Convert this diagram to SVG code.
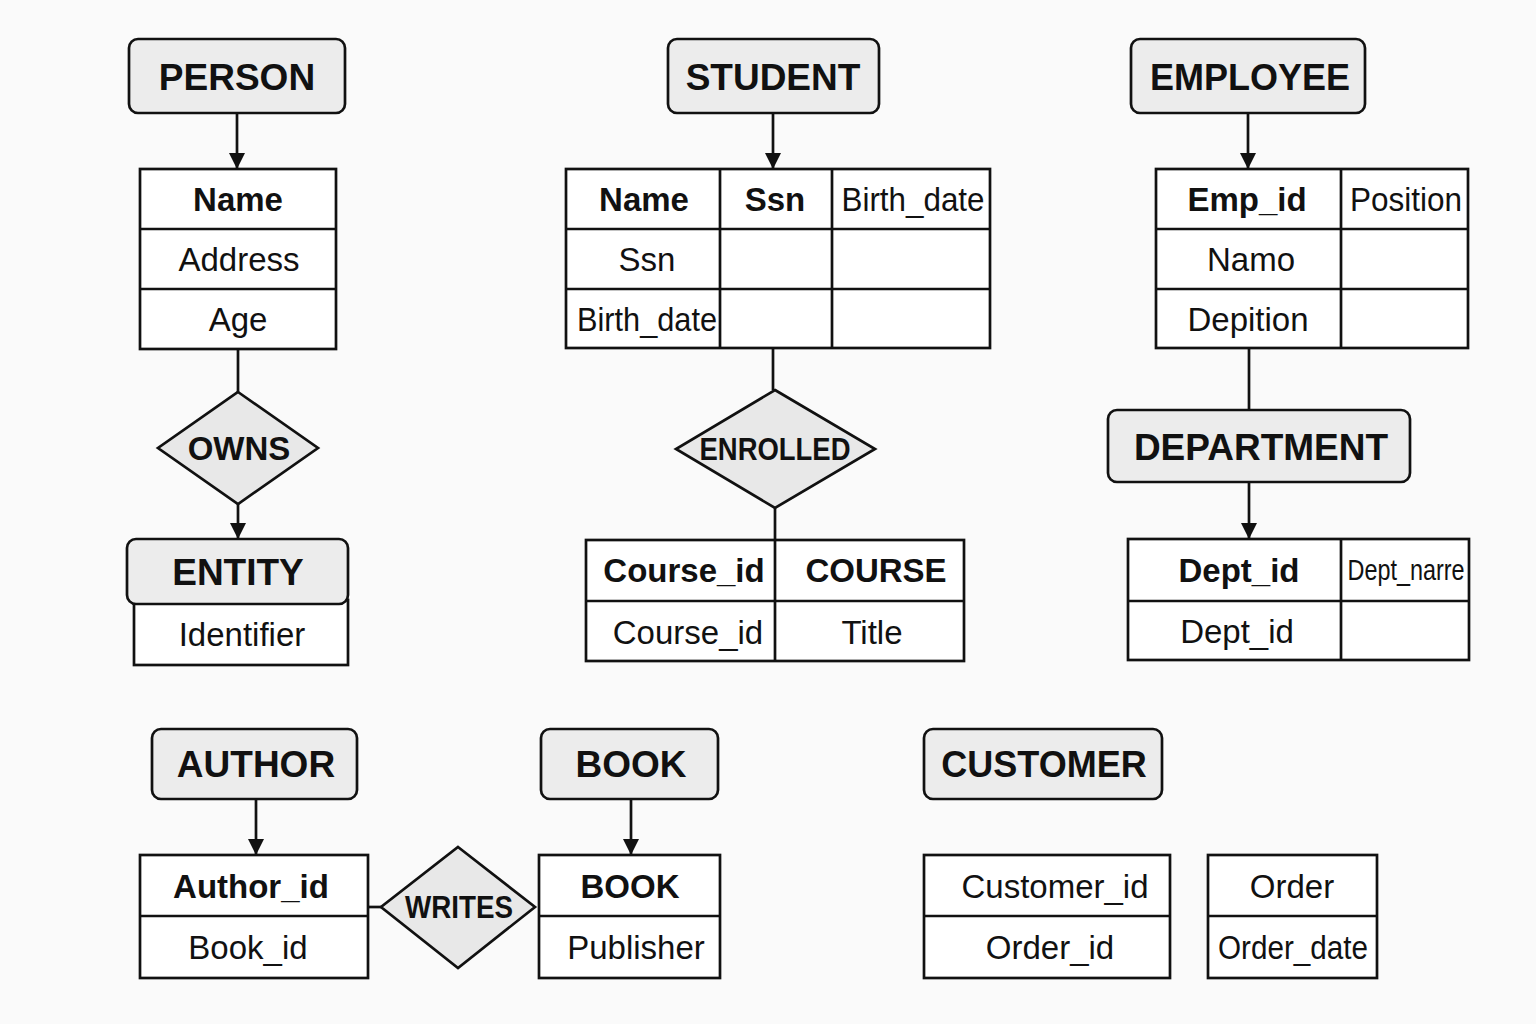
<svg xmlns="http://www.w3.org/2000/svg" width="1536" height="1024" viewBox="0 0 1536 1024">
<defs>
<marker id="arr" viewBox="0 0 10 10" refX="10" refY="5" markerWidth="16" markerHeight="16" markerUnits="userSpaceOnUse" orient="auto"><path d="M0,0 L10,5 L0,10 z" fill="#111"/></marker>
<style>
.hdr{fill:#ececec;stroke:#111;stroke-width:2.7}
.tbl{fill:#fff;stroke:#111;stroke-width:2.7}
.ln{stroke:#111;stroke-width:2.7;fill:none}
.dia{fill:#e8e8e8;stroke:#111;stroke-width:2.7}
.ht{font-family:"Liberation Sans",Arial,sans-serif;font-weight:bold;font-size:37px;fill:#111;text-anchor:middle}
.tb{font-family:"Liberation Sans",Arial,sans-serif;font-weight:bold;font-size:33px;fill:#111;text-anchor:middle}
.tn{font-family:"Liberation Sans",Arial,sans-serif;font-size:33px;fill:#111;text-anchor:middle}
.dt{font-family:"Liberation Sans",Arial,sans-serif;font-weight:bold;font-size:31px;fill:#111;text-anchor:middle}
</style>
</defs>
<rect width="1536" height="1024" fill="#fafafa"/>

<g id="connectors">
<line class="ln" x1="237" y1="113" x2="237" y2="169" marker-end="url(#arr)"/>
<line class="ln" x1="238" y1="349" x2="238" y2="392"/>
<line class="ln" x1="238" y1="504" x2="238" y2="539" marker-end="url(#arr)"/>
<line class="ln" x1="773" y1="113" x2="773" y2="169" marker-end="url(#arr)"/>
<line class="ln" x1="773" y1="348" x2="773" y2="390"/>
<line class="ln" x1="775" y1="508" x2="775" y2="540"/>
<line class="ln" x1="1248" y1="113" x2="1248" y2="169" marker-end="url(#arr)"/>
<line class="ln" x1="1249" y1="348" x2="1249" y2="410"/>
<line class="ln" x1="1249" y1="482" x2="1249" y2="539" marker-end="url(#arr)"/>
<line class="ln" x1="256" y1="799" x2="256" y2="855" marker-end="url(#arr)"/>
<line class="ln" x1="631" y1="799" x2="631" y2="855" marker-end="url(#arr)"/>
<line class="ln" x1="368" y1="907" x2="381" y2="907"/>
</g>

<g id="person">
<rect class="hdr" x="129" y="39" width="216" height="74" rx="9"/>
<text class="ht" x="237" y="90">PERSON</text>
</g>
<g id="person-attrs">
<rect class="tbl" x="140" y="169" width="196" height="180"/>
<line class="ln" x1="140" y1="229" x2="336" y2="229"/>
<line class="ln" x1="140" y1="289" x2="336" y2="289"/>
<text class="tb" x="238" y="211">Name</text>
<text class="tn" x="239" y="271">Address</text>
<text class="tn" x="238" y="331">Age</text>
</g>
<g id="owns">
<polygon class="dia" points="238,392 318,448 238,504 158,448"/>
<text class="tb" x="239" y="460">OWNS</text>
</g>
<g id="entity">
<rect class="tbl" x="134" y="600" width="214" height="65"/>
<rect class="hdr" x="127" y="539" width="221" height="65" rx="9"/>
<text class="ht" x="238" y="585">ENTITY</text>
<text class="tn" x="242" y="646">Identifier</text>
</g>

<g id="student">
<rect class="hdr" x="668" y="39" width="211" height="74" rx="9"/>
<text class="ht" x="773" y="90">STUDENT</text>
</g>
<g id="student-attrs">
<rect class="tbl" x="566" y="169" width="424" height="179"/>
<line class="ln" x1="566" y1="229" x2="990" y2="229"/>
<line class="ln" x1="566" y1="289" x2="990" y2="289"/>
<line class="ln" x1="720" y1="169" x2="720" y2="348"/>
<line class="ln" x1="832" y1="169" x2="832" y2="348"/>
<text class="tb" x="644" y="211">Name</text>
<text class="tb" x="775" y="211">Ssn</text>
<text class="tn" x="913" y="211" textLength="143" lengthAdjust="spacingAndGlyphs">Birth_date</text>
<text class="tn" x="647" y="271">Ssn</text>
<text class="tn" x="647" y="331" textLength="140" lengthAdjust="spacingAndGlyphs">Birth_date</text>
</g>
<g id="enrolled">
<polygon class="dia" points="775,390 875,449 775,508 676,449"/>
<text class="dt" x="775" y="460" textLength="151" lengthAdjust="spacingAndGlyphs">ENROLLED</text>
</g>
<g id="course">
<rect class="tbl" x="586" y="540" width="378" height="121"/>
<line class="ln" x1="586" y1="601" x2="964" y2="601"/>
<line class="ln" x1="775" y1="540" x2="775" y2="661"/>
<text class="tb" x="684" y="582">Course_id</text>
<text class="tb" x="876" y="582">COURSE</text>
<text class="tn" x="688" y="644">Course_id</text>
<text class="tn" x="872" y="644">Title</text>
</g>

<g id="employee">
<rect class="hdr" x="1131" y="39" width="234" height="74" rx="9"/>
<text class="ht" x="1250" y="90" style="font-size:36px">EMPLOYEE</text>
</g>
<g id="employee-attrs">
<rect class="tbl" x="1156" y="169" width="312" height="179"/>
<line class="ln" x1="1156" y1="229" x2="1468" y2="229"/>
<line class="ln" x1="1156" y1="289" x2="1468" y2="289"/>
<line class="ln" x1="1341" y1="169" x2="1341" y2="348"/>
<text class="tb" x="1247" y="211">Emp_id</text>
<text class="tn" x="1406" y="211" textLength="112" lengthAdjust="spacingAndGlyphs">Position</text>
<text class="tn" x="1251" y="271">Namo</text>
<text class="tn" x="1248" y="331">Depition</text>
</g>
<g id="department">
<rect class="hdr" x="1108" y="410" width="302" height="72" rx="9"/>
<text class="ht" x="1261" y="460">DEPARTMENT</text>
</g>
<g id="department-attrs">
<rect class="tbl" x="1128" y="539" width="341" height="121"/>
<line class="ln" x1="1128" y1="601" x2="1469" y2="601"/>
<line class="ln" x1="1341" y1="539" x2="1341" y2="660"/>
<text class="tb" x="1239" y="582">Dept_id</text>
<text class="tn" x="1406" y="580" style="font-size:29px" textLength="117" lengthAdjust="spacingAndGlyphs">Dept_narre</text>
<text class="tn" x="1237" y="643">Dept_id</text>
</g>

<g id="author">
<rect class="hdr" x="152" y="729" width="205" height="70" rx="9"/>
<text class="ht" x="256" y="777">AUTHOR</text>
</g>
<g id="author-attrs">
<rect class="tbl" x="140" y="855" width="228" height="123"/>
<line class="ln" x1="140" y1="916" x2="368" y2="916"/>
<text class="tb" x="251" y="898">Author_id</text>
<text class="tn" x="248" y="959">Book_id</text>
</g>
<g id="writes">
<polygon class="dia" points="458,847 535,907 458,968 381,907"/>
<text class="dt" x="459" y="918" textLength="108" lengthAdjust="spacingAndGlyphs">WRITES</text>
</g>
<g id="book">
<rect class="hdr" x="541" y="729" width="177" height="70" rx="9"/>
<text class="ht" x="631" y="777">BOOK</text>
</g>
<g id="book-attrs">
<rect class="tbl" x="539" y="855" width="181" height="123"/>
<line class="ln" x1="539" y1="916" x2="720" y2="916"/>
<text class="tb" x="630" y="898">BOOK</text>
<text class="tn" x="636" y="959">Publisher</text>
</g>

<g id="customer">
<rect class="hdr" x="924" y="729" width="238" height="70" rx="9"/>
<text class="ht" x="1044" y="777" style="font-size:36px">CUSTOMER</text>
</g>
<g id="customer-attrs">
<rect class="tbl" x="924" y="855" width="246" height="123"/>
<line class="ln" x1="924" y1="916" x2="1170" y2="916"/>
<text class="tn" x="1055" y="898">Customer_id</text>
<text class="tn" x="1050" y="959">Order_id</text>
</g>
<g id="order">
<rect class="tbl" x="1208" y="855" width="169" height="123"/>
<line class="ln" x1="1208" y1="916" x2="1377" y2="916"/>
<text class="tn" x="1292" y="898">Order</text>
<text class="tn" x="1293" y="959" textLength="150" lengthAdjust="spacingAndGlyphs">Order_date</text>
</g>
</svg>
